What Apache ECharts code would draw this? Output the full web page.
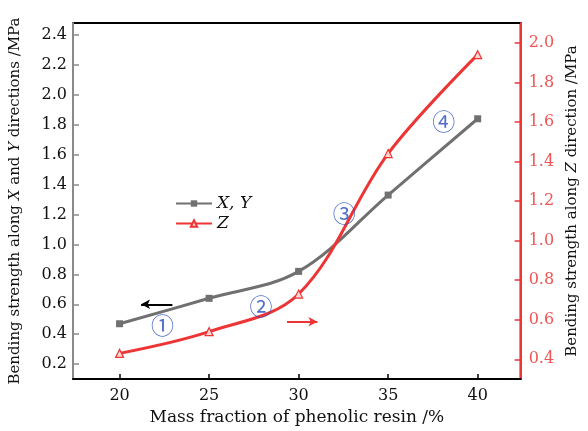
<!DOCTYPE html>
<html>
<head>
<meta charset="utf-8">
<title>Bending strength</title>
<script src="https://cdn.jsdelivr.net/npm/echarts@6/dist/echarts.min.js"></script>
<style>
  html, body { margin: 0; padding: 0; background: #fff; }
  #main { width: 588px; height: 431px; }
</style>
</head>
<body>
<div id="main"></div>
<script>
// data
var massFraction = [20, 25, 30, 35, 40];
var strengthXY = [0.47, 0.64, 0.82, 1.33, 1.84];
var strengthZ = [0.43, 0.54, 0.73, 1.44, 1.94];
var xTicks = [20, 25, 30, 35, 40];
var leftTicks = [0.2, 0.4, 0.6, 0.8, 1.0, 1.2, 1.4, 1.6, 1.8, 2.0, 2.2, 2.4];
var rightTicks = [0.4, 0.6, 0.8, 1.0, 1.2, 1.4, 1.6, 1.8, 2.0];
// circled stage labels, in data coordinates of x / left axis
var stageNames = ['①', '②', '③', '④'];
var stageX = [22.4, 27.9, 32.55, 38.1];
var stageY = [0.46, 0.59, 1.21, 1.82];
// direction arrows (tail x, head x, y)
var arrowLeft = [22.95, 21.2, 0.60];
var arrowRight = [29.35, 31.05, 0.59];

var serif = 'DejaVu Serif';
var grayC = '#707070';
var redC = '#ee3535';

function pairs(xs, ys) {
  return xs.map(function (x, i) { return [x, ys[i]]; });
}

var chart = echarts.init(document.getElementById('main'));
var option = {
  animation: false,
  backgroundColor: '#fff',
  grid: {
    left: 73, right: 63, top: 23, bottom: 47,
    show: true, borderColor: '#000', borderWidth: 2
  },
  legend: {
    data: ['X, Y', 'Z'],
    orient: 'vertical',
    left: 170, top: 190,
    itemWidth: 36, itemHeight: 8, itemGap: 3,
    textStyle: { fontFamily: serif, fontStyle: 'italic', fontSize: 17, color: '#111' }
  },
  xAxis: {
    type: 'value',
    min: 17.4, max: 42.4,
    name: 'Mass fraction of phenolic resin /%',
    nameLocation: 'middle',
    nameGap: 29,
    nameTextStyle: { fontFamily: serif, fontSize: 17, color: '#111' },
    axisLine: { lineStyle: { color: '#000', width: 2 } },
    axisTick: { inside: true, length: 5, customValues: xTicks, lineStyle: { color: '#000', width: 1.5 } },
    axisLabel: { customValues: xTicks, fontFamily: serif, fontSize: 16, color: '#111', margin: 9 },
    splitLine: { show: false }
  },
  yAxis: [{
    type: 'value',
    position: 'left',
    min: 0.1, max: 2.48,
    name: 'Bending strength along {i|X} and {i|Y} directions /MPa',
    nameLocation: 'middle',
    nameRotate: 90,
    nameGap: 50,
    nameTextStyle: {
      fontFamily: serif, fontSize: 15, color: '#111',
      rich: { i: { fontFamily: serif, fontSize: 15, fontStyle: 'italic', color: '#111' } }
    },
    axisLine: { show: true, lineStyle: { color: '#8a8a8a', width: 2 } },
    axisTick: { inside: true, length: 6, customValues: leftTicks, lineStyle: { color: '#8a8a8a', width: 1.5 } },
    axisLabel: {
      customValues: leftTicks, fontFamily: serif, fontSize: 16, color: '#111', margin: 6,
      formatter: function (v) { return v.toFixed(1); }
    },
    splitLine: { show: false }
  }, {
    type: 'value',
    position: 'right',
    min: 0.3, max: 2.1,
    name: 'Bending strength along {i|Z} direction /MPa',
    nameLocation: 'middle',
    nameRotate: 90,
    nameGap: 44,
    nameTextStyle: {
      fontFamily: serif, fontSize: 15, color: '#111',
      rich: { i: { fontFamily: serif, fontSize: 15, fontStyle: 'italic', color: '#111' } }
    },
    axisLine: { show: true, lineStyle: { color: redC, width: 2 } },
    axisTick: { inside: true, length: 6, customValues: rightTicks, lineStyle: { color: redC, width: 1.5 } },
    axisLabel: {
      customValues: rightTicks, fontFamily: serif, fontSize: 16, color: '#f05555', margin: 8,
      formatter: function (v) { return v.toFixed(1); }
    },
    splitLine: { show: false }
  }],
  series: [{
    name: 'X, Y',
    type: 'line',
    yAxisIndex: 0,
    smooth: 0.35,
    data: pairs(massFraction, strengthXY),
    symbol: 'rect',
    symbolSize: 7,
    itemStyle: { color: grayC },
    lineStyle: { color: grayC, width: 3 },
    markLine: {
      silent: true,
      symbol: ['none', 'arrow'],
      symbolSize: [7, 9],
      label: { show: false },
      lineStyle: { color: '#000', width: 2, type: 'solid' },
      data: [[{ coord: [arrowLeft[0], arrowLeft[2]] }, { coord: [arrowLeft[1], arrowLeft[2]] }]]
    }
  }, {
    name: 'Z',
    type: 'line',
    yAxisIndex: 1,
    smooth: 0.35,
    data: pairs(massFraction, strengthZ),
    symbol: 'triangle',
    symbolSize: 8,
    itemStyle: { color: '#ffd6d0', borderColor: redC, borderWidth: 1.2 },
    lineStyle: { color: redC, width: 3 },
    markLine: {
      silent: true,
      symbol: ['none', 'arrow'],
      symbolSize: [7, 9],
      label: { show: false },
      lineStyle: { color: redC, width: 2, type: 'solid' },
      data: [[{ coord: [arrowRight[0], arrowRight[2]] }, { coord: [arrowRight[1], arrowRight[2]] }]]
    }
  }, {
    name: 'stages',
    type: 'scatter',
    yAxisIndex: 0,
    silent: true,
    symbol: 'circle',
    symbolSize: 2,
    itemStyle: { color: 'rgba(255,255,255,0)' },
    data: stageNames.map(function (n, i) { return { name: n, value: [stageX[i], stageY[i]] }; }),
    label: {
      show: true,
      position: 'inside',
      formatter: '{b}',
      fontFamily: 'Noto Sans CJK SC',
      fontSize: 23,
      color: '#2448bb'
    },
    z: 5
  }]
};
chart.setOption(option);
</script>
</body>
</html>
